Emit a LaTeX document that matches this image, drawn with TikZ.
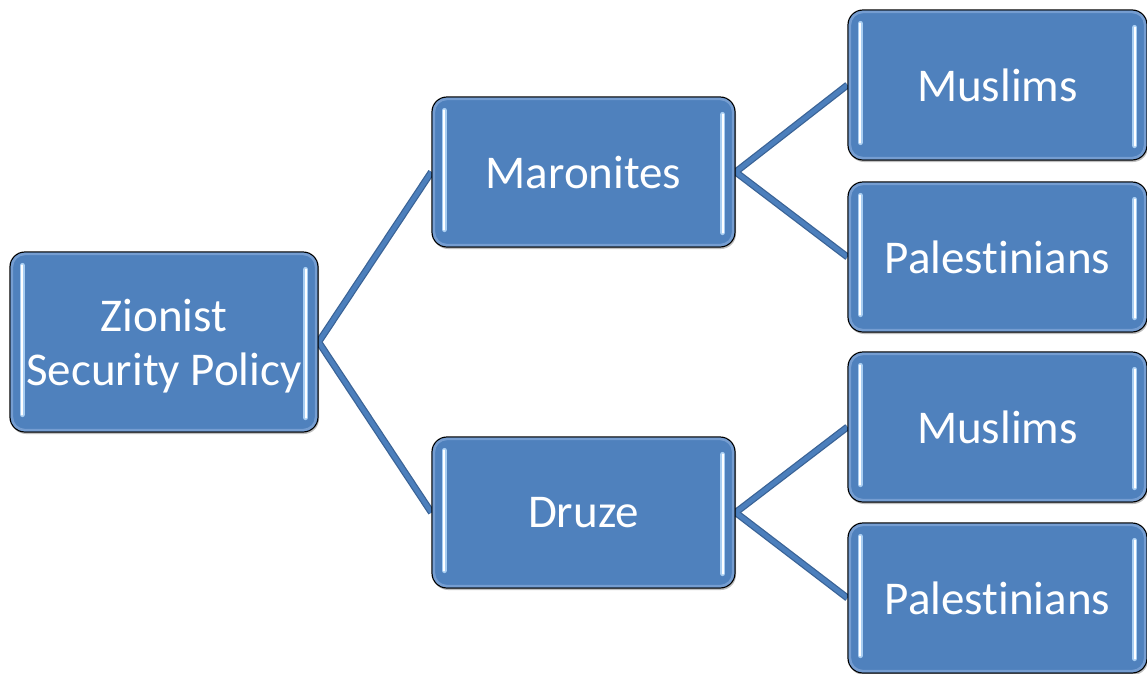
\documentclass[tikz,border=0pt]{standalone}
\usepackage{fontspec}
\setmainfont{Carlito}[Ligatures=CommonOff]
\usetikzlibrary{calc,backgrounds,shadows}

\definecolor{boxblue}{HTML}{4F81BD}
\definecolor{rimblue}{HTML}{86AADA}
\definecolor{linkblue}{HTML}{4C7FBC}
\definecolor{linkedge}{HTML}{3A6396}
\definecolor{glint}{HTML}{A9CEF2}

\tikzset{
  block/.style={rectangle, rounded corners=15pt, draw=black, line width=1.2pt,
    fill=boxblue, text=white, font=\fontsize{47}{54}\selectfont, align=center,
    inner sep=0pt,
    drop shadow={shadow xshift=1pt, shadow yshift=-2pt, opacity=0.25, fill=black}},
  rim/.style={draw=rimblue, line width=2.5pt, rounded corners=13pt, opacity=0.7},
  linkouter/.style={line width=7pt, draw=linkedge},
  linkinner/.style={line width=4.5pt, draw=linkblue},
  glintouter/.style={line width=5pt, draw=glint, line cap=round},
  glintinner/.style={line width=2pt, draw=white, line cap=round},
}

% light bevel rim and the two vertical highlights of a box
\newcommand\boxdeco[1]{%
  \draw[rim] ($(#1.north west)+(2.5,2.5)$) rectangle ($(#1.south east)+(-2.5,-2.5)$);
  \foreach \st in {glintouter,glintinner}{
    \draw[\st] ($(#1.north west)+(13,14)$) -- ($(#1.south west)+(13,-18)$);
    \draw[\st] ($(#1.north east)+(-13,18)$) -- ($(#1.south east)+(-13,-15)$);
  }%
}

\begin{document}
\begin{tikzpicture}[x=1pt,y=-1pt]
  \useasboundingbox (0,0) rectangle (1147,673);

  \node[block, minimum width=308pt, minimum height=180pt] (root) at (164,342)
    {\raisebox{-6pt}[\height][\depth]{\begin{tabular}{@{}c@{}}Zionist\\Security Policy\end{tabular}}};
  \node[block, minimum width=303pt, minimum height=150pt] (mar) at (583.5,172) {Maronites};
  \node[block, minimum width=303pt, minimum height=151pt] (dru) at (583.5,512.5) {Druze};
  \node[block, minimum width=299pt, minimum height=150pt] (mus1) at (997.5,85) {Muslims};
  \node[block, minimum width=299pt, minimum height=150pt] (pal1) at (997.5,257) {Palestinians};
  \node[block, minimum width=299pt, minimum height=150pt] (mus2) at (997.5,427) {Muslims};
  \node[block, minimum width=299pt, minimum height=150pt] (pal2) at (997.5,598) {Palestinians};

  \foreach \n in {root,mar,dru,mus1,pal1,mus2,pal2}{\boxdeco{\n}}

  \begin{scope}[on background layer]
    \foreach \st in {linkouter,linkinner}{
      \draw[\st] (root.east) -- (mar.west);
      \draw[\st] (root.east) -- (dru.west);
      \draw[\st] (mar.east) -- (mus1.west);
      \draw[\st] (mar.east) -- (pal1.west);
      \draw[\st] (dru.east) -- (mus2.west);
      \draw[\st] (dru.east) -- (pal2.west);
    }
  \end{scope}
\end{tikzpicture}
\end{document}
